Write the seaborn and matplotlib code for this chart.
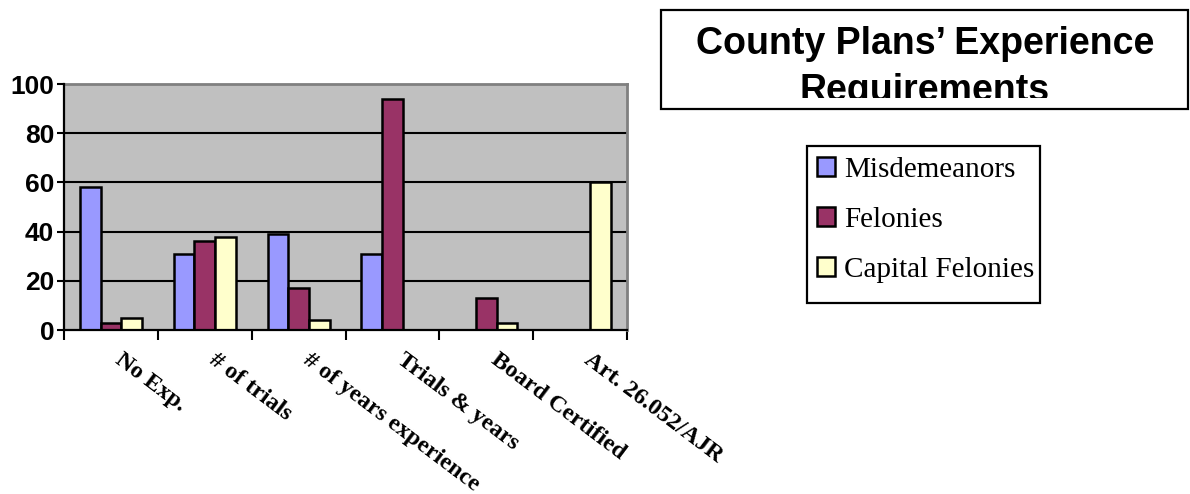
import matplotlib
matplotlib.use("Agg")
import matplotlib.pyplot as plt
from matplotlib.patches import Rectangle, Patch
from matplotlib.ticker import FixedLocator, NullFormatter
from matplotlib.transforms import ScaledTranslation
import seaborn as sns
import pandas as pd

categories = ["No Exp.", "# of trials", "# of years experience",
              "Trials & years", "Board Certified", "Art. 26.052/AJR"]
misdemeanors = [58, 31, 39, 31, 0, 0]
felonies = [3, 36, 17, 94, 13, 0]
capital_felonies = [5, 38, 4, 0, 3, 60]
series_names = ["Misdemeanors", "Felonies", "Capital Felonies"]
y_ticks = [0, 20, 40, 60, 80, 100]
title_lines = ["County Plans\u2019 Experience", "Requirements"]

colors = ["#9999FF", "#993366", "#FFFFCC"]

rows = []
for name, vals in zip(series_names, [misdemeanors, felonies, capital_felonies]):
    for cat, v in zip(categories, vals):
        rows.append({"category": cat, "series": name, "value": v})
df = pd.DataFrame(rows)

W, H = 1190, 494
fig = plt.figure(figsize=(W / 100, H / 100), dpi=100)
fig.patch.set_facecolor("white")


def fx(px):
    return px / W


def fy(py):
    return 1 - py / H


ax = fig.add_axes([fx(64), fy(330), fx(627 - 64), (330 - 84) / H])
ax.set_facecolor("#C0C0C0")

sns.barplot(data=df, x="category", y="value", hue="series",
            order=categories, hue_order=series_names, palette=colors,
            width=0.66, edgecolor="black", linewidth=1.8, saturation=1,
            errorbar=None, legend=False, ax=ax, zorder=3)

ax.set_xlim(-0.5, len(categories) - 0.5)
ax.set_ylim(0, 100)
ax.set_xlabel("")
ax.set_ylabel("")

# horizontal gridlines
for v in y_ticks[1:-1]:
    ax.axhline(v, color="black", lw=1.5, zorder=1)

# spines
for s in ["top", "right"]:
    ax.spines[s].set_color("#808080")
    ax.spines[s].set_linewidth(2)
for s in ["left", "bottom"]:
    ax.spines[s].set_color("black")
    ax.spines[s].set_linewidth(1.6)
    ax.spines[s].set_zorder(4)

# y axis
ax.set_yticks(y_ticks)
ax.set_yticklabels([str(v) for v in y_ticks], fontfamily="Liberation Sans",
                   fontweight="bold", fontsize=19)
ax.tick_params(axis="y", direction="out", length=5, width=1.5, pad=2,
               color="black")

# x axis: ticks on category boundaries, labels at category centres
ax.xaxis.set_major_locator(FixedLocator([i - 0.5 for i in range(len(categories) + 1)]))
ax.xaxis.set_major_formatter(NullFormatter())
ax.xaxis.set_minor_locator(FixedLocator(list(range(len(categories)))))
ax.set_xticklabels(categories, minor=True, rotation=-37, ha="left",
                   va="top", rotation_mode="anchor",
                   fontfamily="Liberation Serif", fontweight="bold",
                   fontsize=17.3)
ax.tick_params(axis="x", which="major", direction="out", length=7,
               width=1.5, color="black")
ax.tick_params(axis="x", which="minor", length=0, pad=14)
shift = ScaledTranslation(13 / 100, 0, fig.dpi_scale_trans)
for lbl in ax.get_xticklabels(minor=True):
    lbl.set_transform(lbl.get_transform() + shift)

# title box
tax = fig.add_axes([fx(661), fy(98), fx(1189 - 661), (98 - 10) / H])
tax.set_axis_off()
tax.set_xlim(0, 1)
tax.set_ylim(98, 10)
tax.text(0.5, 54, title_lines[0], ha="center", va="baseline",
         fontfamily="Liberation Sans", fontweight="bold", fontsize=27,
         clip_on=True)
tax.text(0.5, 101, title_lines[1], ha="center", va="baseline",
         fontfamily="Liberation Sans", fontweight="bold", fontsize=27,
         clip_on=True)
fig.patches.append(Rectangle((fx(661), fy(109)), fx(1188 - 661),
                             (109 - 10) / H, transform=fig.transFigure,
                             fill=False, edgecolor="black", linewidth=1.6))

# legend with a separately drawn frame
handles = [Patch(facecolor=c, edgecolor="black", linewidth=1.8, label=n)
           for c, n in zip(colors, series_names)]
leg = fig.legend(handles=handles, loc="upper left",
                 bbox_to_anchor=(fx(817), fy(157)),
                 prop={"family": "Liberation Serif", "size": 21},
                 frameon=False,
                 handlelength=0.62, handleheight=0.62, handletextpad=0.3,
                 labelspacing=0.82, borderpad=0, borderaxespad=0)
fig.patches.append(Rectangle((fx(807), fy(303)), fx(1040 - 807),
                             (303 - 146) / H, transform=fig.transFigure,
                             fill=False, edgecolor="black", linewidth=1.6))

fig.savefig("out.png", dpi=100, facecolor="white")
